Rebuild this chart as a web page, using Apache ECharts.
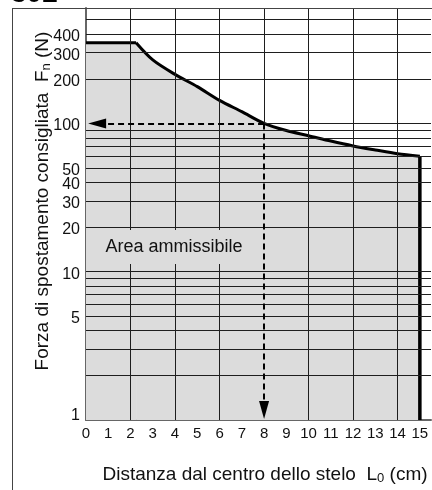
<!DOCTYPE html>
<html>
<head>
<meta charset="utf-8">
<script src="https://cdn.jsdelivr.net/npm/echarts@6/dist/echarts.min.js"></script>
<style>
html,body{margin:0;padding:0;background:#fff;}
#chart{width:432px;height:490px;}
</style>
</head>
<body>
<div id="chart"></div>
<script>
// ---- data ----
const flatDistances  = [0, 2.25];
const flatForces     = [350, 350];
const curveDistances = [2.25, 3, 4, 5, 6, 7, 8, 9, 10, 11, 12, 13, 14, 15];
const curveForces    = [350, 268, 214, 177, 143, 120, 100, 89.5, 82.6, 76, 70.5, 66.2, 62.4, 60];
const limitDistances = [15, 15];
const limitForces    = [60, 1];
const xTickLabels = [0, 1, 2, 3, 4, 5, 6, 7, 8, 9, 10, 11, 12, 13, 14, 15];
const xMinorTicks = [1, 3, 5, 7, 9, 11, 13];
const xGridValues = [2, 4, 6, 10, 12, 14];
const yTickLabels = [1, 5, 10, 20, 30, 40, 50, 100, 200, 300, 400];
const yGridValues = [2, 3, 4, 5, 6, 7, 8, 9, 10, 20, 30, 40, 50, 60, 70, 80, 90, 200, 300, 400, 500];
const readout = [8, 100];          // example reading: L0 = 8 cm -> Fn = 100 N
const arrowEndX = [0.5, 100];      // horizontal arrow end
const arrowEndY = [8, 1.17];       // vertical arrow end
const xMax = 15.5, yMin = 1, yMax = 600;

const FONT = 'Liberation Sans';
const GRID_COLOR = '#1e1e1e';

const chart = echarts.init(document.getElementById('chart'), null, {renderer: 'canvas'});

const pairs = (xs, ys) => xs.map((x, i) => [x, ys[i]]);

const gridLines = [];
yGridValues.forEach(v => gridLines.push({yAxis: v}));
xGridValues.forEach(v => gridLines.push({xAxis: v}));
gridLines.push([{coord: [readout[0], readout[1]]}, {coord: [readout[0], yMax]}]);
gridLines.push([{coord: [readout[0], readout[1]]}, {coord: [xMax, readout[1]]}]);

const yLabelLines = yTickLabels.map(v => ({
  yAxis: v,
  lineStyle: {color: 'rgba(0,0,0,0)', width: 0},
  label: {show: true, position: 'start', formatter: String(v), distance: 6,
          offset: v === 1 ? [0, -4] : [0, 2.5],
          fontSize: 16, fontFamily: FONT, color: '#111'}
}));

const SMOOTH = 0.3;

const option = {
  animation: false,
  backgroundColor: '#fff',
  grid: {left: 86, right: 1, top: 8, bottom: 70, containLabel: false, outerBoundsMode: 'none'},
  xAxis: {
    type: 'value', min: 0, max: xMax,
    axisLine: {show: true, lineStyle: {color: '#666', width: 2}},
    axisTick: {show: true, inside: true, length: 9, customValues: xMinorTicks, lineStyle: {color: GRID_COLOR, width: 1}},
    axisLabel: {show: true, customValues: xTickLabels, fontSize: 15, fontFamily: FONT, color: '#111', margin: 6},
    splitLine: {show: false}
  },
  yAxis: {
    type: 'log', logBase: 10, min: yMin, max: yMax,
    axisLine: {show: true, lineStyle: {color: '#666', width: 2}},
    axisTick: {show: false},
    axisLabel: {show: false},
    splitLine: {show: false}
  },
  series: [
    {
      name: 'area-flat', type: 'line', z: 1,
      data: pairs(flatDistances, flatForces),
      symbol: 'none', silent: true,
      lineStyle: {width: 0},
      areaStyle: {color: '#dcdcdc', opacity: 1, origin: 'start'}
    },
    {
      name: 'area-curve', type: 'line', z: 1,
      data: pairs(curveDistances, curveForces), smooth: SMOOTH,
      symbol: 'none', silent: true,
      lineStyle: {width: 0},
      areaStyle: {color: '#dcdcdc', opacity: 1, origin: 'start'}
    },
    {
      name: 'grid', type: 'line', z: 2, data: [], silent: true,
      markLine: {
        silent: true, symbol: 'none', animation: false,
        label: {show: false},
        lineStyle: {color: GRID_COLOR, width: 1, type: 'solid'},
        emphasis: {disabled: true},
        data: gridLines.concat(yLabelLines)
      }
    },
    {
      name: 'flat', type: 'line', z: 4,
      data: pairs(flatDistances, flatForces),
      symbol: 'none', silent: true,
      lineStyle: {color: '#000', width: 3}
    },
    {
      name: 'curve', type: 'line', z: 4,
      data: pairs(curveDistances, curveForces), smooth: SMOOTH,
      symbol: 'none', silent: true,
      lineStyle: {color: '#000', width: 3}
    },
    {
      name: 'limit', type: 'line', z: 4,
      data: pairs(limitDistances, limitForces),
      symbol: 'none', silent: true,
      lineStyle: {color: '#000', width: 3.5}
    },
    {
      name: 'readout', type: 'line', z: 5, data: [], silent: true,
      markLine: {
        silent: true, animation: false,
        symbol: ['none', 'triangle'], symbolSize: [10, 18],
        label: {show: false},
        emphasis: {disabled: true},
        lineStyle: {color: '#000', width: 2, type: [6, 4]},
        data: [
          [{coord: readout}, {coord: arrowEndX}],
          [{coord: readout}, {coord: arrowEndY}]
        ]
      }
    }
  ],
  graphic: [
    {type: 'line', z: 10, shape: {x1: 12.5, y1: 8, x2: 12.5, y2: 490}, style: {stroke: '#444', lineWidth: 1}},
    {type: 'line', z: 10, shape: {x1: 12, y1: 8.5, x2: 432, y2: 8.5}, style: {stroke: '#444', lineWidth: 1}},
    {type: 'text', z: 10, x: 11, y: -20,
     style: {text: '302', font: 'bold 28px "Liberation Sans"', fill: '#000', align: 'left', verticalAlign: 'top'}},
    {type: 'text', z: 20, x: 174, y: 247,
     style: {text: 'Area ammissibile', font: '18px "Liberation Sans"', fill: '#111',
             align: 'center', verticalAlign: 'middle', backgroundColor: '#dcdcdc', padding: [8, 10]}},
    {type: 'text', z: 10, x: 43, y: 201, rotation: Math.PI / 2,
     style: {text: 'Forza di spostamento consigliata  F{s|n} (N)', fill: '#111',
             font: '19px "Liberation Sans"', fontFamily: FONT, fontSize: 19,
             align: 'center', verticalAlign: 'middle',
             rich: {s: {fontSize: 13, fontFamily: FONT, fill: '#111', verticalAlign: 'bottom'}}}},
    {type: 'text', z: 10, x: 265, y: 475,
     style: {text: 'Distanza dal centro dello stelo  L{s|0} (cm)', fill: '#111',
             font: '19px "Liberation Sans"', fontFamily: FONT, fontSize: 19,
             align: 'center', verticalAlign: 'middle',
             rich: {s: {fontSize: 13, fontFamily: FONT, fill: '#111', verticalAlign: 'bottom'}}}}
  ]
};
chart.setOption(option);
</script>
</body>
</html>
